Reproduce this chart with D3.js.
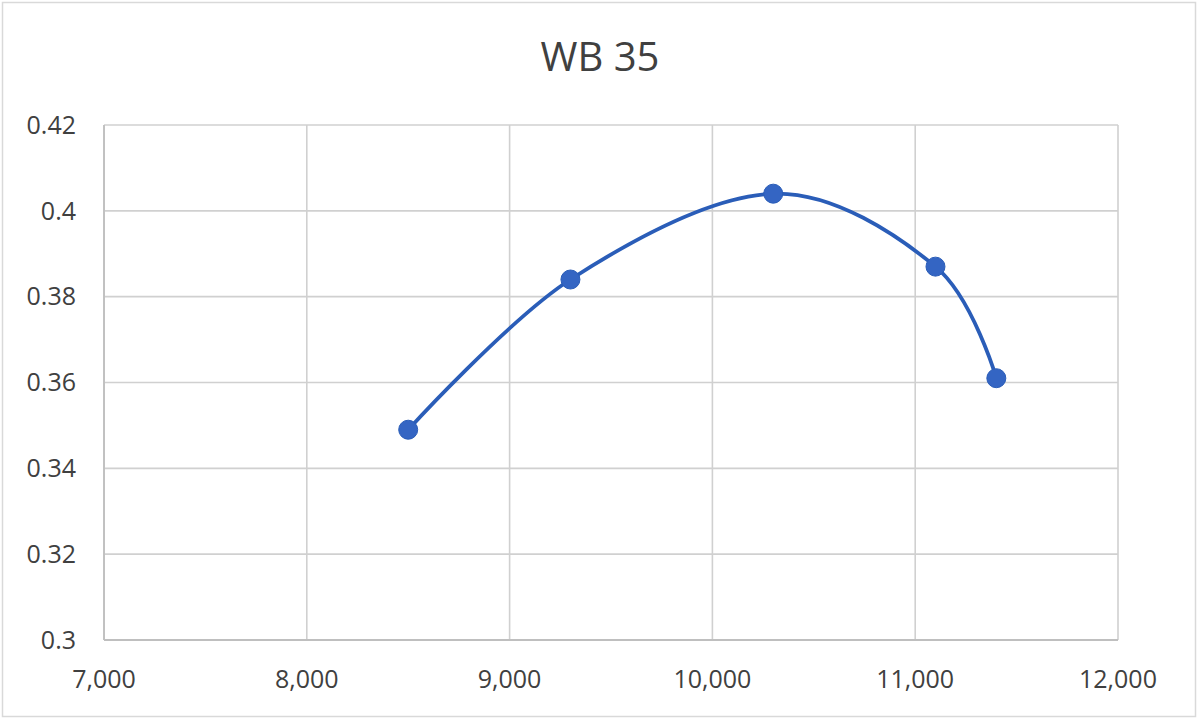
<!DOCTYPE html>
<html><head><meta charset="utf-8">
<script src="https://cdn.jsdelivr.net/npm/d3@7"></script>
<style>body{margin:0;background:#fff}svg{display:block}</style>
</head><body>
<script>
const title = "WB 35";
const xValues = [8500, 9300, 10300, 11100, 11400];
const yValues = [0.349, 0.384, 0.404, 0.387, 0.361];
const xTicks = [7000, 8000, 9000, 10000, 11000, 12000];
const yTicks = [0.3, 0.32, 0.34, 0.36, 0.38, 0.4, 0.42];

const W = 1200, H = 721;
const font = "'Open Sans', 'Noto Sans', sans-serif";
const svg = d3.select("body").append("svg").attr("width", W).attr("height", H);
svg.append("rect").attr("x", 2.5).attr("y", 2.5).attr("width", 1193).attr("height", 714)
  .attr("fill", "#fff").attr("stroke", "#d9d9d9").attr("stroke-width", 1.5);

const x = d3.scaleLinear().domain([7000, 12000]).range([104, 1118]);
const y = d3.scaleLinear().domain([0.3, 0.42]).range([640, 125]);

svg.append("text").attr("x", 600).attr("y", 71).attr("text-anchor", "middle")
  .attr("font-family", font).attr("font-size", 40).attr("fill", "#404040").text(title);

const g = svg.append("g");
g.selectAll(".hg").data(yTicks).join("line")
  .attr("x1", x(7000)).attr("x2", x(12000)).attr("y1", d => y(d)).attr("y2", d => y(d))
  .attr("stroke", "#d0d0d0").attr("stroke-width", 1.6);
g.selectAll(".vg").data(xTicks).join("line")
  .attr("y1", y(0.3)).attr("y2", y(0.42)).attr("x1", d => x(d)).attr("x2", d => x(d))
  .attr("stroke", "#d0d0d0").attr("stroke-width", 1.6);
// axis lines
g.append("line").attr("x1", x(7000)).attr("x2", x(7000)).attr("y1", y(0.3)).attr("y2", y(0.42))
  .attr("stroke", "#bfbfbf").attr("stroke-width", 1.8);
g.append("line").attr("x1", x(7000)).attr("x2", x(12000)).attr("y1", y(0.3)).attr("y2", y(0.3))
  .attr("stroke", "#bfbfbf").attr("stroke-width", 1.8);

const fmtY = d => d3.format("")(+d.toFixed(2));
svg.selectAll(".yl").data(yTicks).join("text")
  .attr("x", 76).attr("y", d => y(d)).attr("dy", "0.35em").attr("text-anchor", "end")
  .attr("font-family", font).attr("font-size", 25).attr("fill", "#404040").text(fmtY);
svg.selectAll(".xl").data(xTicks).join("text")
  .attr("x", d => x(d)).attr("y", 688).attr("text-anchor", "middle")
  .attr("font-family", font).attr("font-size", 25).attr("fill", "#404040").text(d3.format(","));

const pts = xValues.map((v, i) => [v, yValues[i]]);
const line = d3.line().x(d => x(d[0])).y(d => y(d[1])).curve(d3.curveCardinal.tension(0));
svg.append("path").attr("d", line(pts)).attr("fill", "none")
  .attr("stroke", "#2a5db8").attr("stroke-width", 3.8);
svg.selectAll(".pt").data(pts).join("circle")
  .attr("cx", d => x(d[0])).attr("cy", d => y(d[1])).attr("r", 9.5)
  .attr("fill", "#3465c3").attr("stroke", "#2a5db8").attr("stroke-width", 1);
</script>
</body></html>
